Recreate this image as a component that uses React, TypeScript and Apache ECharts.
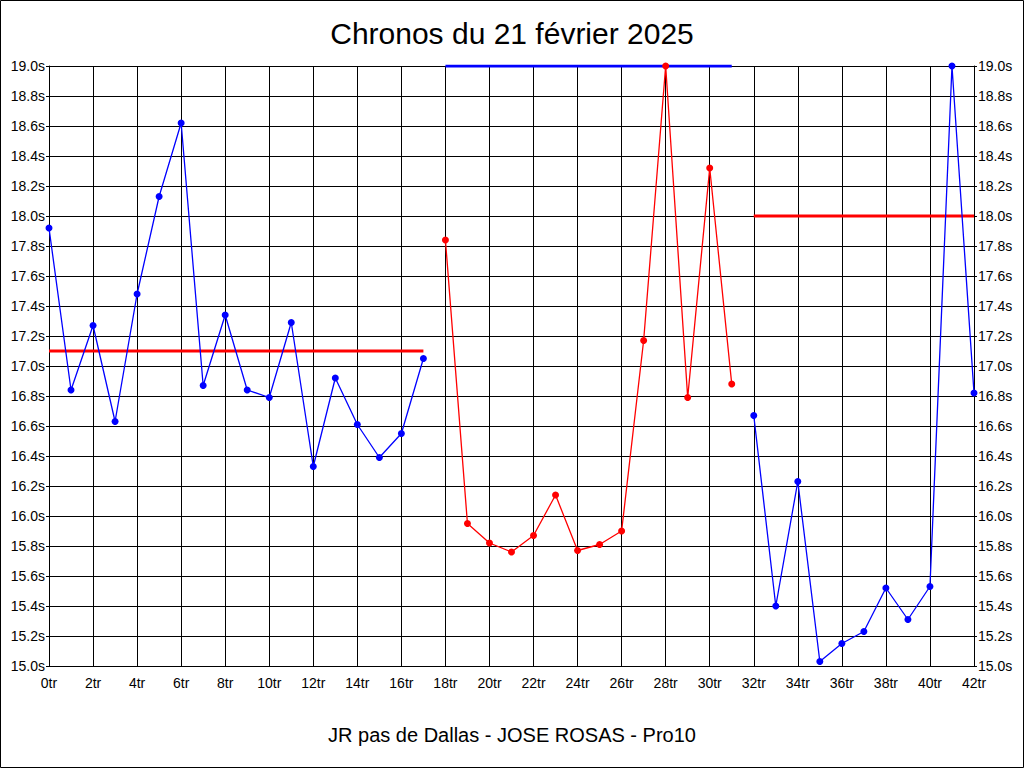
import React, { useEffect, useRef } from "react";
import * as echarts from "echarts";

const titleText = "Chronos du 21 février 2025";
const subtitleText = "JR pas de Dallas - JOSE ROSAS - Pro10";

const blue1X = [0, 1, 2, 3, 4, 5, 6, 7, 8, 9, 10, 11, 12, 13, 14, 15, 16, 17];
const blue1Y = [17.92, 16.84, 17.27, 16.63, 17.48, 18.13, 18.62, 16.87, 17.34, 16.84, 16.79, 17.29, 16.33, 16.92, 16.61, 16.39, 16.55, 17.05];
const redX = [18, 19, 20, 21, 22, 23, 24, 25, 26, 27, 28, 29, 30, 31];
const redY = [17.84, 15.95, 15.82, 15.76, 15.87, 16.14, 15.77, 15.81, 15.9, 17.17, 19.0, 16.79, 18.32, 16.88];
const blue2X = [32, 33, 34, 35, 36, 37, 38, 39, 40, 41, 42];
const blue2Y = [16.67, 15.4, 16.23, 15.03, 15.15, 15.23, 15.52, 15.31, 15.53, 19.0, 16.82];

// reference lines: [xStart, xEnd, value]
const refRed1 = [0, 17, 17.1];
const refBlue = [18, 31, 19.0];
const refRed2 = [32, 42, 18.0];

const BLUE = "#0000ff";
const RED = "#ff0000";

function pts(xs: number[], ys: number[]) {
  return xs.map((x, i) => [x, ys[i]]);
}

export default function App() {
  const ref = useRef<HTMLDivElement>(null);
  useEffect(() => {
    document.body.style.margin = "0";
    const chart = echarts.init(ref.current!, null, { renderer: "svg" });
    const font = "Liberation Sans, Arial, sans-serif";
    const yAxisBase = {
      type: "value",
      min: 15,
      max: 19,
      interval: 0.2,
      axisLine: { show: true, lineStyle: { color: "#000", width: 1 } },
      axisTick: { show: true, length: 3, lineStyle: { color: "#000" } },
      splitLine: { show: true, lineStyle: { color: "#000", width: 1 } },
      axisLabel: {
        color: "#000",
        fontSize: 14,
        fontFamily: font,
        margin: 4,
        formatter: (v: number) => v.toFixed(1) + "s",
      },
    };
    const lineSeries = (xs: number[], ys: number[], color: string) => ({
      type: "line",
      data: pts(xs, ys),
      symbol: "circle",
      symbolSize: 7,
      lineStyle: { color, width: 1.3 },
      itemStyle: { color },
      z: 5,
    });
    const refSeries = (r: number[], color: string) => ({
      type: "line",
      data: [
        [r[0], r[2]],
        [r[1], r[2]],
      ],
      symbol: "none",
      lineStyle: { color, width: 3 },
      z: 4,
    });
    chart.setOption({
      animation: false,
      backgroundColor: "#fff",
      title: [
        {
          text: titleText,
          left: "center",
          top: 13,
          textStyle: { color: "#000", fontSize: 30, fontWeight: "normal", fontFamily: font },
        },
        {
          text: subtitleText,
          left: "center",
          top: 720,
          textStyle: { color: "#000", fontSize: 20, fontWeight: "normal", fontFamily: font },
        },
      ],
      grid: { left: 49, right: 50, top: 66, bottom: 102, containLabel: false },
      xAxis: {
        type: "value",
        min: 0,
        max: 42,
        interval: 2,
        axisLine: { show: true, onZero: false, lineStyle: { color: "#000", width: 1 } },
        axisTick: { show: false },
        splitLine: { show: true, lineStyle: { color: "#000", width: 1 } },
        axisLabel: {
          color: "#000",
          fontSize: 14,
          fontFamily: font,
          margin: 10,
          showMaxLabel: true,
          showMinLabel: true,
          formatter: (v: number) => v + "tr",
        },
      },
      yAxis: [
        { ...yAxisBase, position: "left" },
        { ...yAxisBase, position: "right", splitLine: { show: false } },
      ],
      series: [
        lineSeries(blue1X, blue1Y, BLUE),
        lineSeries(redX, redY, RED),
        lineSeries(blue2X, blue2Y, BLUE),
        refSeries(refRed1, RED),
        refSeries(refBlue, BLUE),
        refSeries(refRed2, RED),
      ],
      graphic: [
        {
          type: "rect",
          shape: { x: 0.5, y: 0.5, width: 1023, height: 767 },
          style: { fill: "none", stroke: "#000", lineWidth: 1 },
          silent: true,
        },
      ],
    });
    return () => chart.dispose();
  }, []);
  return <div ref={ref} style={{ width: 1024, height: 768 }} />;
}
